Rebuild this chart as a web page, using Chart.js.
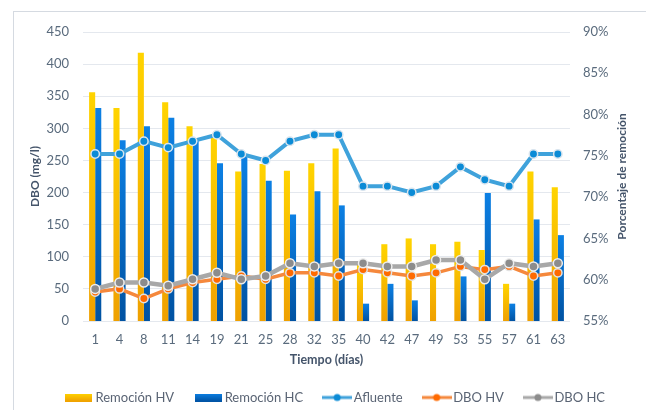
<!DOCTYPE html>
<html>
<head>
<meta charset="utf-8">
<script src="https://cdn.jsdelivr.net/npm/chart.js@4/dist/chart.umd.min.js"></script>
<style>
  html, body { margin: 0; padding: 0; background: #fff; overflow: hidden; }
  #wrap { position: relative; width: 646px; height: 410px; overflow: hidden; }
  #frame { position: absolute; left: 13px; top: 11px; width: 700px; height: 500px;
           border: 1px solid #d5dae1; pointer-events: none; }
  canvas { display: block; }
</style>
</head>
<body>
<div id="wrap">
  <canvas id="chart" width="646" height="414"></canvas>
  <div id="frame"></div>
</div>
<script>
"use strict";

// Tiempo (días)
const days = ["1", "4", "8", "11", "14", "19", "21", "25", "28", "32",
              "35", "40", "42", "47", "49", "53", "55", "57", "61", "63"];
// DBO (mg/l)
const afluente = [260, 260, 280, 270, 280, 290, 260, 250, 280, 290,
                  290, 210, 210, 200, 210, 240, 220, 210, 260, 260];
const dboHV = [45, 50, 35, 50, 60, 65, 70, 65, 75, 75,
               70, 80, 75, 70, 75, 85, 80, 85, 70, 75];
const dboHC = [50, 60, 60, 55, 65, 75, 65, 70, 90, 85,
               90, 90, 85, 85, 95, 95, 65, 90, 85, 90];
// Porcentaje de remoción
const remHV = [82.7, 80.8, 87.5, 81.5, 78.6, 77.6, 73.1, 74.0, 73.2, 74.1,
               75.9, 61.9, 64.3, 65.0, 64.3, 64.6, 63.6, 59.5, 73.1, 71.2];
const remHC = [80.8, 76.9, 78.6, 79.6, 76.8, 74.1, 75.0, 72.0, 67.9, 70.7,
               69.0, 57.1, 59.5, 57.5, 54.8, 60.4, 70.5, 57.1, 67.3, 65.4];

const YELLOW_TOP = "#ffd400", YELLOW_BOT = "#efa000";
const BLUE_TOP = "#0c80e4", BLUE_BOT = "#0052a2";
const TICK = "#5a6b7d", TITLE = "#44546a";

Chart.defaults.font.family = "Lato, 'Open Sans', sans-serif";

// vertical gradient from the top of each bar down to the axis
function barFill(top, bottom) {
  return function (c) {
    const chart = c.chart;
    const area = chart.chartArea;
    if (!area || c.type !== "data") return top;
    const yTop = chart.scales.y1.getPixelForValue(c.raw);
    const g = chart.ctx.createLinearGradient(0, Math.min(yTop, area.bottom - 1), 0, area.bottom);
    g.addColorStop(0, top);
    g.addColorStop(1, bottom);
    return g;
  };
}

function boxIcon(top, bottom) {
  const cv = document.createElement("canvas");
  cv.width = 27; cv.height = 8;
  const x = cv.getContext("2d");
  const g = x.createLinearGradient(0, 0, 0, 8);
  g.addColorStop(0, top);
  g.addColorStop(1, bottom);
  x.fillStyle = g;
  x.fillRect(0, 0, 27, 8);
  return cv;
}

function lineIcon(color, dot) {
  const cv = document.createElement("canvas");
  cv.width = 30; cv.height = 10;
  const x = cv.getContext("2d");
  x.strokeStyle = color;
  x.lineWidth = 3;
  x.beginPath(); x.moveTo(0, 5); x.lineTo(30, 5); x.stroke();
  x.fillStyle = dot;
  x.beginPath(); x.arc(15, 5, 3.5, 0, Math.PI * 2); x.fill();
  return cv;
}

const legendIcons = [
  boxIcon(YELLOW_TOP, YELLOW_BOT),
  boxIcon(BLUE_TOP, BLUE_BOT),
  lineIcon("#3fa2db", "#0b8bd6"),
  lineIcon("#f5883c", "#ff6a00"),
  lineIcon("#a8a8a8", "#8c8c8c")
];

// right axis title reads bottom-to-top, like the left one
const rightTitle = {
  id: "rightTitle",
  afterDraw(chart) {
    const { ctx, chartArea } = chart;
    ctx.save();
    ctx.translate(622, (chartArea.top + chartArea.bottom) / 2);
    ctx.rotate(-Math.PI / 2);
    ctx.font = "bold 12px Lato, 'Open Sans', sans-serif";
    ctx.fillStyle = TITLE;
    ctx.textAlign = "center";
    ctx.textBaseline = "middle";
    ctx.fillText("Porcentaje de remoción", 0, 0);
    ctx.restore();
  }
};

new Chart(document.getElementById("chart"), {
  type: "bar",
  data: {
    labels: days,
    datasets: [
      {
        label: "Remoción HV",
        data: remHV,
        yAxisID: "y1",
        base: 55,
        order: 4,
        backgroundColor: barFill(YELLOW_TOP, YELLOW_BOT),
        barPercentage: 1,
        categoryPercentage: 0.5
      },
      {
        label: "Remoción HC",
        data: remHC,
        yAxisID: "y1",
        base: 55,
        order: 5,
        backgroundColor: barFill(BLUE_TOP, BLUE_BOT),
        barPercentage: 1,
        categoryPercentage: 0.5
      },
      {
        type: "line",
        label: "Afluente",
        data: afluente,
        yAxisID: "y",
        order: 3,
        borderColor: "#3fa2db",
        borderWidth: 4,
        pointRadius: 4.2,
        pointBorderWidth: 1.5,
        pointBackgroundColor: "#0b8bd6",
        pointBorderColor: "#d8e4ee",
        tension: 0
      },
      {
        type: "line",
        label: "DBO HV",
        data: dboHV,
        yAxisID: "y",
        order: 2,
        borderColor: "#f5883c",
        borderWidth: 3.5,
        pointRadius: 4.2,
        pointBorderWidth: 1.5,
        pointBackgroundColor: "#ff6a00",
        pointBorderColor: "#e2e2e2",
        tension: 0
      },
      {
        type: "line",
        label: "DBO HC",
        data: dboHC,
        yAxisID: "y",
        order: 1,
        borderColor: "#a8a8a8",
        borderWidth: 4.5,
        pointRadius: 4.5,
        pointBorderWidth: 1.5,
        pointBackgroundColor: "#8c8c8c",
        pointBorderColor: "#eeeeee",
        tension: 0
      }
    ]
  },
  options: {
    responsive: false,
    animation: false,
    layout: { padding: { left: 28, right: 0, top: 32, bottom: 0 } },
    scales: {
      x: {
        grid: { display: false, drawTicks: false },
        border: { display: false },
        ticks: { color: TICK, font: { size: 13 }, padding: 11 },
        title: {
          display: true,
          text: "Tiempo (días)",
          color: TITLE,
          font: { size: 12.5, weight: "bold" },
          padding: { top: 0, bottom: 0 }
        },
        afterFit(scale) { scale.height = 46; }
      },
      y: {
        position: "left",
        min: 0,
        max: 450,
        ticks: { stepSize: 50, color: TICK, font: { size: 13 }, padding: 14 },
        grid: { color: "#e4e8ee", drawTicks: false },
        border: { display: false },
        title: {
          display: true,
          text: "DBO (mg/l)",
          color: TITLE,
          font: { size: 12, weight: "bold" },
          padding: 0
        },
        afterFit(scale) { scale.width = 55; }
      },
      y1: {
        position: "right",
        min: 55,
        max: 90,
        ticks: {
          stepSize: 5,
          color: TICK,
          font: { size: 13 },
          padding: 13,
          callback: v => v + "%"
        },
        grid: { display: false, drawTicks: false },
        border: { display: false },
        afterFit(scale) { scale.width = 76; }
      }
    },
    plugins: {
      tooltip: { enabled: false },
      legend: {
        position: "bottom",
        labels: {
          usePointStyle: true,
          pointStyleWidth: 20,
          padding: 24,
          color: "#5a6474",
          font: { size: 13 },
          generateLabels(chart) {
            const items = Chart.defaults.plugins.legend.labels.generateLabels(chart);
            items.forEach(it => { it.pointStyle = legendIcons[it.datasetIndex]; });
            return items.sort((a, b) => a.datasetIndex - b.datasetIndex);
          }
        }
      }
    }
  },
  plugins: [rightTitle]
});
</script>
</body>
</html>
